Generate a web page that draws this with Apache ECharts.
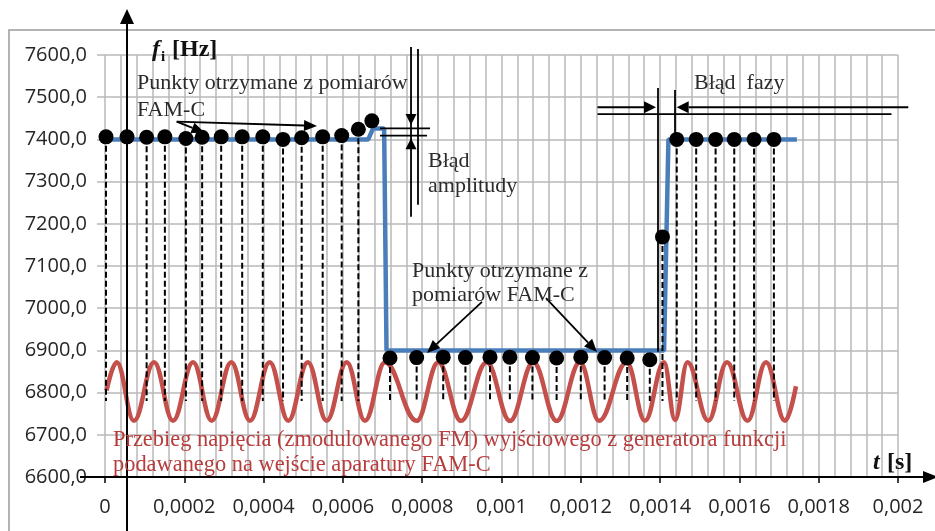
<!DOCTYPE html>
<html><head><meta charset="utf-8">
<script src="https://cdn.jsdelivr.net/npm/echarts@6/dist/echarts.min.js"></script>
<style>html,body{margin:0;padding:0;background:#fff}#c{width:935px;height:531px}</style>
</head><body><div id="c"></div>
<script>
// ---- axis tick labels ----
const xTickLabels = ['0','0,0002','0,0004','0,0006','0,0008','0,001','0,0012','0,0014','0,0016','0,0018','0,002'];
const yTickLabels = ['6600,0','6700,0','6800,0','6900,0','7000,0','7100,0','7200,0','7300,0','7400,0','7500,0','7600,0'];

// ---- blue: instantaneous frequency f_i [Hz] ----
const blueT = [0, 0.000664, 0.000676, 0.000704, 0.00071, 0.00141, 0.001421, 0.001745];
const blueV = [7400, 7400, 7426, 7426, 6900, 6900, 7400, 7400];

// ---- red: FM voltage waveform (start, peaks / troughs, end) ----
const redT = [0.000004, 0.0000295, 0.0000731, 0.0001236, 0.0001715, 0.000222, 0.0002691, 0.0003185, 0.0003657,
  0.0004154, 0.0004623, 0.0005115, 0.0005591, 0.0006096, 0.0006557, 0.0007062, 0.0007861, 0.0008406, 0.0008979,
  0.0009627, 0.0010214, 0.0010802, 0.0011392, 0.001198, 0.0012459, 0.0013158, 0.0013619, 0.0014098, 0.0014376,
  0.0014691, 0.0015216, 0.0015687, 0.0016204, 0.0016671, 0.001715, 0.0017427];
const redV = [6805, 6872, 6733, 6872, 6733, 6872, 6733, 6872, 6733,
  6872, 6733, 6872, 6733, 6872, 6733, 6872, 6733, 6872, 6733,
  6872, 6733, 6872, 6733, 6872, 6733, 6872, 6733, 6872, 6735,
  6872, 6733, 6872, 6733, 6872, 6733, 6815];

// ---- black dots: points measured by FAM-C ----
const dotT = [0.0000025, 0.0000555, 0.000105, 0.000151, 0.000204, 0.000245, 0.000293, 0.000346, 0.000398, 0.000449,
  0.000496, 0.000549, 0.000597, 0.000639, 0.000673,
  0.0007188, 0.000786, 0.000853, 0.000909, 0.000971, 0.001021, 0.001078, 0.001139, 0.0012, 0.00126, 0.001317, 0.001374,
  0.001406,
  0.001442, 0.001491, 0.00154, 0.001587, 0.001637, 0.001687];
const dotV = [7406, 7406, 7405, 7406, 7402, 7405, 7406, 7406, 7406, 7400,
  7404, 7406, 7409, 7424, 7444,
  6882, 6883, 6884, 6883, 6884, 6884, 6883, 6882, 6884, 6883, 6882, 6878,
  7169,
  7400, 7400, 7400, 7400, 7400, 7400];

// ---- dashed drop lines (sampling instants) ----
const dropT = [0.0000025, 0.0000555, 0.000105, 0.000151, 0.000204, 0.000245, 0.000293, 0.000346, 0.000398, 0.000449,
  0.000496, 0.000549, 0.000597, 0.000639,
  0.0007188, 0.000786, 0.000853, 0.000909, 0.000971, 0.001021, 0.001078, 0.001139, 0.0012, 0.00126, 0.001317, 0.001374,
  0.001406,
  0.001442, 0.001491, 0.00154, 0.001587, 0.001637, 0.001687];
const dropTop = [7406, 7406, 7405, 7406, 7402, 7405, 7406, 7406, 7406, 7400,
  7404, 7406, 7409, 7424,
  6882, 6883, 6884, 6883, 6884, 6884, 6883, 6882, 6884, 6883, 6882, 6878,
  7169,
  7400, 7400, 7400, 7400, 7400, 7400];
const dropBottom = 6780;

// ---- annotation anchor points (data coords [t, f]) ----
const famTopFrom = [0.0001808, 7442];
const famTopTo1 = [0.0005347, 7432];
const famTopTo2 = [0.000251, 7416];
const ampLineA = [[0.0007718, 7619], [0.0007718, 7217]];
const ampLineB = [[0.0007894, 7614], [0.0007894, 7245]];
const ampTipDown = [0.0007718, 7434];
const ampTipUp = [0.0007718, 7403];
const ampH1 = [[0.0006936, 7426], [0.0008197, 7426]];
const ampH2 = [[0.0006936, 7409], [0.0008121, 7409]];
const phLineA = [[0.0013947, 7522], [0.0013947, 6897]];
const phLineB = [[0.0014376, 7517], [0.0014376, 7400]];
const phArrL = [[0.0012421, 7476], [0.0013897, 7476]];
const phArrR = [[0.002026, 7476], [0.0014419, 7476]];
const phH2 = [[0.0012421, 7460], [0.0019836, 7460]];
const lowArrL = [[0.0009508, 7015], [0.0008121, 6894]];
const lowArrR = [[0.0011122, 7024], [0.0012409, 6896]];
const yArrowT = 0.0000555;

const chart = echarts.init(document.getElementById('c'));
const gridLineColor = '#b9b9b9';
chart.setOption({
  animation: false,
  backgroundColor: '#fff',
  grid: {left: 105, right: 37, top: 55, bottom: 54, containLabel: false},
  xAxis: {
    type: 'value', min: 0, max: 0.002, interval: 0.0002,
    axisLine: {show: false},
    axisTick: {show: true, length: 6, lineStyle: {color: '#000', width: 1.5}},
    axisLabel: {margin: 20, fontFamily: 'Open Sans', fontSize: 20, color: '#262626', showMinLabel: true, showMaxLabel: true,
      formatter: v => xTickLabels[Math.round(v / 0.0002)]},
    splitLine: {show: true, lineStyle: {color: gridLineColor, width: 1.5}},
    minorTick: {show: false, splitNumber: 5},
    minorSplitLine: {show: true, lineStyle: {color: gridLineColor, width: 1.5}}
  },
  yAxis: {
    type: 'value', min: 6600, max: 7600, interval: 100,
    axisLine: {show: false},
    axisTick: {show: true, length: 8, lineStyle: {color: gridLineColor, width: 1.5}},
    axisLabel: {margin: 18, fontFamily: 'Open Sans', fontSize: 20, color: '#262626', showMinLabel: true, showMaxLabel: true,
      formatter: v => yTickLabels[Math.round((v - 6600) / 100)]},
    splitLine: {show: true, lineStyle: {color: gridLineColor, width: 1.5}}
  },
  series: [
    {type: 'line', name: 'wave', data: redT.map((t, i) => [t, redV[i]]), smooth: 0.4, smoothMonotone: 'x', showSymbol: false, symbol: 'none',
      lineStyle: {color: '#c4504c', width: 4.5}, z: 2},
    {type: 'line', name: 'fi', data: blueT.map((t, i) => [t, blueV[i]]), showSymbol: false, symbol: 'none',
      lineStyle: {color: '#4a7ebb', width: 4.5}, z: 3},
    {type: 'custom', name: 'drops', data: dropT.map((t, i) => [t, dropTop[i]]), z: 4,
      renderItem: (params, api) => {
        const a = api.coord([api.value(0), api.value(1)]);
        const b = api.coord([api.value(0), dropBottom]);
        return {type: 'line', shape: {x1: a[0], y1: a[1], x2: b[0], y2: b[1]},
          style: {stroke: '#000', lineWidth: 2, lineDash: [6, 3]}};
      }},
    {type: 'scatter', name: 'dots', data: dotT.map((t, i) => [t, dotV[i]]), symbol: 'circle', symbolSize: 15,
      itemStyle: {color: '#000', opacity: 1}, z: 5}
  ]
});

const P = p => chart.convertToPixel({gridIndex: 0}, p);
const g = [];
function line(p1, p2, lw, color) {
  g.push({type: 'line', z: 20, shape: {x1: p1[0], y1: p1[1], x2: p2[0], y2: p2[1]}, style: {stroke: color || '#000', lineWidth: lw || 1.8}});
}
function head(tip, from, len, wid) {
  const dx = tip[0] - from[0], dy = tip[1] - from[1], L = Math.hypot(dx, dy), ux = dx / L, uy = dy / L;
  const bx = tip[0] - ux * len, by = tip[1] - uy * len;
  g.push({type: 'polygon', z: 21, shape: {points: [[tip[0], tip[1]], [bx - uy * wid / 2, by + ux * wid / 2], [bx + uy * wid / 2, by - ux * wid / 2]]},
    style: {fill: '#000'}});
  return [bx, by];
}
function arrow(p1, p2, len, wid, lw) {
  const b = head(p2, p1, len, wid);
  line(p1, b, lw);
}
function text(str, x, y, font, color) {
  g.push({type: 'text', z: 22, x: x, y: y, style: {text: str, font: font, fill: color || '#2b2b2b', align: 'left', verticalAlign: 'middle'}});
}

// chart-area frame
g.push({type: 'rect', z: -1, shape: {x: 9, y: 30, width: 960, height: 540}, style: {fill: 'none', stroke: '#9a9a9a', lineWidth: 1.5}});

// axis arrows
const o = P([0, 6600]);
const xa = P([yArrowT, 6600]);
line([80, o[1]], [924, o[1]], 2);
head([938, o[1]], [80, o[1]], 15, 12);
line([xa[0], 531], [xa[0], 22], 2);
head([xa[0], 9], [xa[0], 531], 15, 14);

// FAM-C top arrows
arrow(P(famTopFrom), P(famTopTo1), 13, 11, 1.8);
arrow(P(famTopFrom), P(famTopTo2), 13, 11, 1.8);

// amplitude error
line(P(ampLineA[0]), P(ampLineA[1]), 1.8);
line(P(ampLineB[0]), P(ampLineB[1]), 1.8);
head(P(ampTipDown), P(ampLineA[0]), 11, 11);
head(P(ampTipUp), P(ampLineA[1]), 11, 11);
line(P(ampH1[0]), P(ampH1[1]), 1.8);
line(P(ampH2[0]), P(ampH2[1]), 1.8);

// phase error
line(P(phLineA[0]), P(phLineA[1]), 1.8);
line(P(phLineB[0]), P(phLineB[1]), 1.8);
arrow(P(phArrL[0]), P(phArrL[1]), 12, 12, 2);
arrow(P(phArrR[0]), P(phArrR[1]), 12, 12, 2);
line(P(phH2[0]), P(phH2[1]), 1.8);

// lower arrows
arrow(P(lowArrL[0]), P(lowArrL[1]), 13, 11, 1.8);
arrow(P(lowArrR[0]), P(lowArrR[1]), 13, 11, 1.8);

// texts
const serif = '22px "Liberation Serif"';
text('Punkty otrzymane z pomiarów', 137, 83, serif);
text('FAM-C', 137, 110, serif);
text('Błąd', 428, 161, serif);
text('amplitudy', 428, 186.5, serif);
text('Błąd  fazy', 694, 83, serif);
text('Punkty otrzymane z', 412, 271.5, serif);
text('pomiarów FAM-C', 412, 295, serif);
const redFont = '22.4px "Liberation Serif"';
text('Przebieg napięcia (zmodulowanego FM) wyjściowego z generatora funkcji', 113, 440, redFont, '#b83c3c');
text('podawanego na wejście aparatury FAM-C', 113, 465, redFont, '#b83c3c');
// axis titles
text('f', 152, 50, 'italic bold 24px "Liberation Serif"', '#111');
text('i', 161, 57, 'bold 15px "Liberation Serif"', '#111');
text('[Hz]', 172, 50, 'bold 24px "Liberation Serif"', '#111');
text('t', 873, 463, 'italic bold 24px "Liberation Serif"', '#111');
text('[s]', 887, 463, 'bold 24px "Liberation Serif"', '#111');

chart.setOption({graphic: g});
</script>
</body></html>
